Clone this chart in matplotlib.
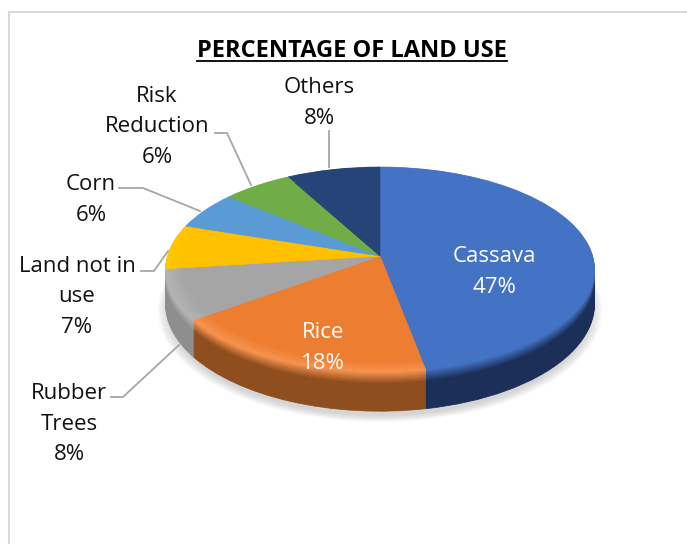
import matplotlib
matplotlib.use("Agg")
import matplotlib.pyplot as plt
import numpy as np
from matplotlib.colors import to_rgb
from matplotlib.transforms import Transform

# Data
labels = ["Cassava", "Rice", "Rubber\nTrees", "Land not in\nuse", "Corn", "Risk\nReduction", "Others"]
values = [47, 18, 8, 7, 6, 6, 8]
title = "PERCENTAGE OF LAND USE"

# Styles
top_colors = ["#4472C4", "#ED7D31", "#A5A5A5", "#FFC000", "#5B9BD5", "#70AD47", "#264478"]
rim_colors = ["#4472C4", "#F8934E", "#B4B4B4", "#FFC800", "#5B9BD5", "#70AD47", "#264478"]
wall_colors = ["#1B2F58", "#8F4E1E", "#8E8E8E", "#BF9000", "#3F76A8", "#4F7F30", "#1A2F55"]
label_pos = [(494, 272), (323, 348), (69, 424), (77, 297), (91, 200), (157, 127), (319, 103)]
label_colors = ["white", "white", "#111111", "#111111", "#111111", "#111111", "#111111"]
leaders = [
    [(111, 397), (123, 397), (179, 345)],
    [(141, 271), (154, 271), (168, 251)],
    [(119, 188), (143, 188), (200, 211)],
    [(215, 133), (227, 133), (251, 185)],
    [(329, 131), (329, 167)],
]

W, H = 687, 544
CX, CY, A, B, K, DEPTH = 380.0, 256.0, 212.6, 100.7, 0.132, 34.0


class Perspective(Transform):
    """Tilted-disc projection: pie units to pixel-like axes units."""
    input_dims = 2
    output_dims = 2
    is_separable = False
    has_inverse = False

    def __init__(self, drop=0.0):
        super().__init__()
        self.drop = drop

    def transform_non_affine(self, values):
        v = np.asarray(values, dtype=float)
        w = 1 + K * v[:, 1]
        return np.column_stack([CX + A * v[:, 0] / w,
                                CY + (-B * v[:, 1] + self.drop) / w])


def mix(c1, c2, t):
    a, b = np.array(to_rgb(c1)), np.array(to_rgb(c2))
    return tuple(a + (b - a) * t)


plt.rcParams["font.family"] = ["Open Sans", "Noto Sans", "DejaVu Sans"]
fig = plt.figure(figsize=(W / 100, H / 100), dpi=100, facecolor="white")
ax = fig.add_axes([0, 0, 1, 1])
ax.set_xlim(0, W)
ax.set_ylim(H, 0)


def layer(vals, colors, radius=1.0, drop=0.0, alpha=None):
    wedges, _ = ax.pie(vals, colors=colors, radius=radius, startangle=90,
                       counterclock=False, frame=True,
                       wedgeprops=dict(alpha=alpha))
    for w in wedges:
        w.set_transform(Perspective(drop) + ax.transData)
        w.set_clip_on(False)
        if alpha is None:
            w.set_edgecolor(w.get_facecolor())
            w.set_linewidth(0.5)
        else:
            w.set_linewidth(0)


# Soft shadow
for r in np.linspace(1.035, 0.99, 8):
    layer([1], ["#7F7F7F"], radius=r, drop=DEPTH + 5, alpha=0.045)

# Side wall, bottom to top
n = 40
for i in range(n, 0, -1):
    f = i / n
    t = min(f / 0.3, 1.0)
    cols = [mix(r, w, t) for r, w in zip(rim_colors, wall_colors)]
    layer(values, cols, drop=DEPTH * f)

# Bevelled rim then the flat top face
for r in np.linspace(1.0, 0.92, 12):
    t = (1.0 - r) / 0.08
    cols = [mix(rc, tc, t) for rc, tc in zip(rim_colors, top_colors)]
    layer(values, cols, radius=r)
layer(values, top_colors, radius=0.915)

# Leader lines
for pts in leaders:
    xs, ys = zip(*pts)
    ax.plot(xs, ys, color="#A6A6A6", lw=1.3, solid_joinstyle="miter", zorder=2)

# Labels
for name, val, (x, y), c in zip(labels, values, label_pos, label_colors):
    ax.text(x, y, f"{name}\n{val}%", ha="center", va="center", color=c,
            fontsize=16.0, linespacing=1.6, zorder=3)

# Title and underline
ax.text(352, 51, title, ha="center", va="center", fontsize=17.0,
        fontweight="bold", color="black", zorder=3)
ax.plot([197, 507], [60.5, 60.5], color="black", lw=1.3, zorder=3)

# Chart frame
ax.plot([W, 8.5, 8.5], [12, 12, H], color="#D9D9D9", lw=1.5, zorder=2,
        solid_joinstyle="miter")

ax.set_aspect("auto")
ax.set_xlim(0, W)
ax.set_ylim(H, 0)
ax.axis("off")
fig.savefig("out.png", dpi=100, facecolor="white")
